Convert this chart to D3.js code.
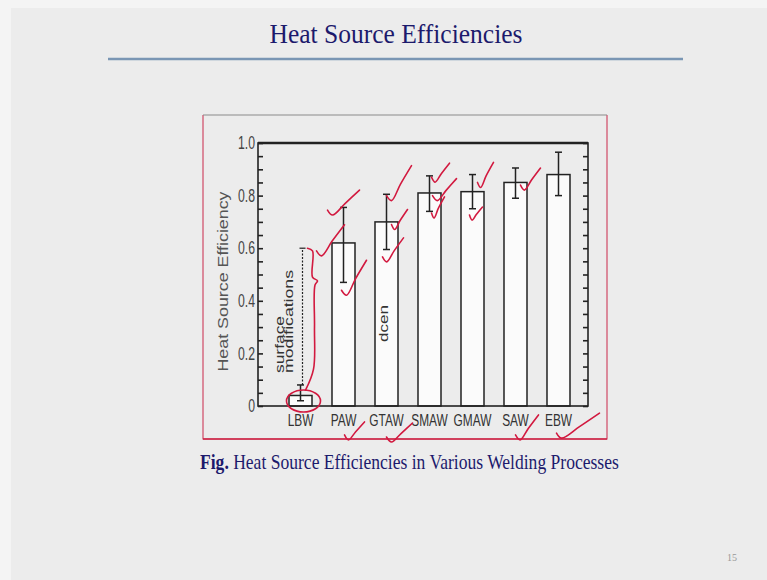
<!DOCTYPE html>
<html>
<head>
<meta charset="utf-8">
<script src="https://cdn.jsdelivr.net/npm/d3@7"></script>
<style>
  html, body { margin: 0; padding: 0; background: #f4f4f4; }
  svg { display: block; }
  .serif { font-family: "Liberation Serif", "DejaVu Serif", serif; }
  .sans { font-family: "Liberation Sans", Arial, Helvetica, sans-serif; }
</style>
</head>
<body>
<div id="root"></div>
<script>
// values
const processes = ["LBW", "PAW", "GTAW", "SMAW", "GMAW", "SAW", "EBW"]
const efficiency = [0.04, 0.62, 0.70, 0.81, 0.815, 0.85, 0.88]
const errLow = [0.02, 0.47, 0.595, 0.74, 0.75, 0.79, 0.80]
const errHigh = [0.08, 0.755, 0.805, 0.875, 0.88, 0.905, 0.965]
const majorTicks = [0, 0.2, 0.4, 0.6, 0.8, 1.0]
const minorTicks = d3.range(0, 21).map(i => i * 0.05)
const surfaceRange = [0.08, 0.6]

// red pen marks: [process, value, dx, width, height]
const checks = [
    ["PAW", 0.745, -16, 32, 20], ["PAW", 0.59, -27, 28, 26], ["PAW", 0.44, -2, 25, 30],
    ["GTAW", 0.80, 0, 25, 30], ["GTAW", 0.69, 5, 16, 15], ["GTAW", 0.567, -4, 21, 19],
    ["SMAW", 0.87, 2, 18, 14], ["SMAW", 0.80, 3, 24, 17], ["SMAW", 0.734, 2, 13, 16],
    ["GMAW", 0.85, 5, 16, 20], ["GMAW", 0.726, -3, 13, 8],
    ["SAW", 0.84, 5, 20, 17],
    ["PAW", -0.11, 1, 20, 13], ["GTAW", -0.118, 0, 26, 14],
    ["SAW", -0.11, 0, 23, 20], ["EBW", -0.103, -2, 43, 20]
]
const brace = [[7, 0.6], [12, 0.59], [12, 0.49], [17, 0.476], [14.5, 0.46], [14, 0.3], [13, 0.14], [5, 0.06]]

const W = 767, H = 580
const plot = {left: 258, right: 588, top: 143, bottom: 406}
const ink = "#222", pen = "#d2193f", navy = "#1c1a6c"

const svg = d3.select("#root").append("svg").attr("width", W).attr("height", H)

svg.append("rect").attr("x", 11).attr("y", 8).attr("width", W - 11).attr("height", H - 8)
   .attr("fill", "#ececec")

// slide title + rule
svg.append("text").attr("class", "serif")
    .attr("x", 396).attr("y", 43).attr("text-anchor", "middle")
    .attr("font-size", 28).attr("fill", navy)
    .attr("textLength", 253).attr("lengthAdjust", "spacingAndGlyphs")
    .text("Heat Source Efficiencies")
svg.append("line").attr("x1", 108).attr("x2", 683).attr("y1", 59).attr("y2", 59)
   .attr("stroke", "#7a96b4").attr("stroke-width", 2.5)

// figure box: grey top edge, pinkish sides, red bottom
const box = {l: 203, t: 115, r: 607, b: 439}
svg.append("path").attr("d", `M${box.l},${box.t}V${box.b}H${box.r}V${box.t}`)
   .attr("fill", "none").attr("stroke", "#d04a66").attr("stroke-width", 1.2)
svg.append("line").attr("x1", box.l).attr("x2", box.r).attr("y1", box.t).attr("y2", box.t)
   .attr("stroke", "#8a8a8a").attr("stroke-width", 1.2)
svg.append("line").attr("x1", box.l).attr("x2", box.r).attr("y1", box.b).attr("y2", box.b)
   .attr("stroke", "#cc2244").attr("stroke-width", 1.5)

const x = d3.scaleBand().domain(processes).range([289, 570]).paddingInner(0.465).paddingOuter(0)
const y = d3.scaleLinear().domain([0, 1]).range([plot.bottom, plot.top])
const cx = p => x(p) + x.bandwidth() / 2

const g = svg.append("g")

// ticks on both sides, pointing inward
const tickL = g.append("g").attr("transform", `translate(${plot.left},0)`)
    .call(d3.axisLeft(y).tickValues(minorTicks).tickSize(-5).tickFormat(""))
const tickR = g.append("g").attr("transform", `translate(${plot.right},0)`)
    .call(d3.axisRight(y).tickValues(minorTicks).tickSize(-5).tickFormat(""))
;[tickL, tickR].forEach(a => {
    a.select(".domain").remove()
    a.selectAll("line").attr("stroke", ink).attr("stroke-width", 1.6)
})

const sx = 0.68
const labels = g.append("g").attr("transform", `translate(${plot.left},0)`)
    .call(d3.axisLeft(y).tickValues(majorTicks).tickSize(0)
        .tickFormat(d => d === 0 ? "0" : d3.format(".1f")(d)))
labels.select(".domain").remove()
labels.selectAll("text").attr("class", "sans").attr("font-size", 18).attr("fill", "#444")
    .attr("x", -3 / sx).attr("transform", `scale(${sx},1)`)

const xa = g.append("g").attr("transform", `translate(0,${plot.bottom})`)
    .call(d3.axisBottom(x).tickSize(0).tickPadding(8))
xa.select(".domain").remove()
xa.selectAll("text").attr("class", "sans").attr("font-size", 17).attr("fill", "#333")
    .attr("transform", "scale(0.7,1)")

// bars
g.selectAll(".bar").data(processes).join("rect").attr("class", "bar")
    .attr("x", d => x(d)).attr("width", x.bandwidth())
    .attr("y", (d, i) => y(efficiency[i])).attr("height", (d, i) => y(0) - y(efficiency[i]))
    .attr("fill", "#fbfbfb").attr("stroke", ink).attr("stroke-width", 1.5)

// error bars
const err = g.selectAll(".err").data(processes).join("g").attr("class", "err")
    .attr("stroke", ink).attr("stroke-width", 1.5)
err.append("line").attr("x1", d => cx(d)).attr("x2", d => cx(d))
    .attr("y1", (d, i) => y(errLow[i])).attr("y2", (d, i) => y(errHigh[i]))
err.append("line").attr("x1", d => cx(d) - 3.5).attr("x2", d => cx(d) + 3.5)
    .attr("y1", (d, i) => y(errLow[i])).attr("y2", (d, i) => y(errLow[i]))
err.append("line").attr("x1", d => cx(d) - 3.5).attr("x2", d => cx(d) + 3.5)
    .attr("y1", (d, i) => y(errHigh[i])).attr("y2", (d, i) => y(errHigh[i]))

// frame
g.append("rect").attr("x", plot.left).attr("y", plot.top)
    .attr("width", plot.right - plot.left).attr("height", plot.bottom - plot.top)
    .attr("fill", "none").attr("stroke", ink).attr("stroke-width", 1.6)
g.append("line").attr("x1", plot.left).attr("x2", plot.right)
    .attr("y1", plot.top).attr("y2", plot.top).attr("stroke", ink).attr("stroke-width", 2.4)

// surface modification range above LBW
const sxp = cx("LBW") + 2
g.append("line").attr("x1", sxp).attr("x2", sxp)
    .attr("y1", y(surfaceRange[0])).attr("y2", y(surfaceRange[1]))
    .attr("stroke", ink).attr("stroke-width", 1.2).attr("stroke-dasharray", "2,1.5")
g.append("line").attr("x1", sxp - 3).attr("x2", sxp + 3)
    .attr("y1", y(surfaceRange[1])).attr("y2", y(surfaceRange[1]))
    .attr("stroke", ink).attr("stroke-width", 1.2)

function vtext (str, bx, by, len, size, fill) {
    svg.append("text").attr("class", "sans")
        .attr("transform", `translate(${bx},${by}) rotate(-90)`)
        .attr("font-size", size).attr("fill", fill)
        .attr("textLength", len).attr("lengthAdjust", "spacingAndGlyphs")
        .text(str)
}
vtext("surface", 283.5, 373, 57, 13, "#333")
vtext("modifications", 293, 373, 103, 13, "#333")
vtext("dcen", cx("GTAW") + 1, 342, 37, 13, "#333")
svg.append("text").attr("class", "sans")
    .attr("transform", `translate(228,${(plot.top + plot.bottom) / 2 + 7}) rotate(-90)`)
    .attr("text-anchor", "middle").attr("font-size", 14).attr("fill", "#555")
    .attr("textLength", 180).attr("lengthAdjust", "spacingAndGlyphs")
    .text("Heat Source Efficiency")

// pen marks
const marks = svg.append("g").attr("fill", "none").attr("stroke", pen)
    .attr("stroke-width", 1.6).attr("stroke-linecap", "round").attr("stroke-linejoin", "round")
const curve = d3.line().curve(d3.curveCatmullRom.alpha(0.5))
checks.forEach(([p, v, dx, w, h]) => {
    const x0 = cx(p) + dx, y0 = y(v)
    const dipX = x0 + Math.min(5, w * 0.2), dipY = y0 + 5
    marks.append("path").attr("d", curve([
        [x0, y0], [dipX, dipY],
        [dipX + (x0 + w - dipX) * 0.5 - 1, dipY + (y0 - h - dipY) * 0.5 + 1],
        [x0 + w, y0 - h]
    ]))
})
marks.append("path").attr("d", curve(brace.map(([dx, v]) => [cx("LBW") + dx, y(v)])))
marks.append("ellipse").attr("cx", cx("LBW") + 3).attr("cy", y(0.019)).attr("rx", 17).attr("ry", 11)

// caption
const cap = svg.append("text").attr("class", "serif").attr("font-size", 20).attr("fill", navy)
cap.append("tspan").attr("font-weight", "bold").text("Fig.")
cap.append("tspan").text(" Heat Source Efficiencies in Various Welding Processes")
const capW = cap.node().getComputedTextLength()
cap.attr("transform", `translate(200,469) scale(${419 / capW},1)`)

svg.append("text").attr("class", "serif").attr("x", 727).attr("y", 561)
   .attr("font-size", 10).attr("fill", "#999").text("15")
</script>
</body>
</html>
